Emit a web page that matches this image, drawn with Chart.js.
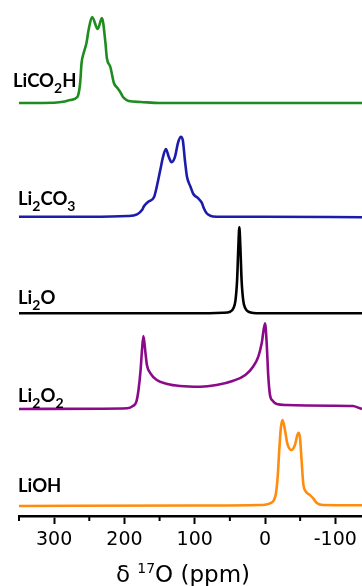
<!DOCTYPE html>
<html>
<head>
<meta charset="utf-8">
<script src="https://cdn.jsdelivr.net/npm/chart.js@4.4.1/dist/chart.umd.min.js"></script>
<style>
  html, body { margin: 0; padding: 0; background: #ffffff; }
  #wrap { position: relative; width: 362px; height: 586px; }
</style>
</head>
<body>
<div id="wrap"><canvas id="c"></canvas></div>
<script>
// ---- data ----
const TICK_VALUES = [-100, -50, 0, 50, 100, 150, 200, 250, 300, 350];
const LABELED_TICKS = [300, 200, 100, 0, -100];
const X_MIN = -138;
const X_MAX = 350;

const SERIES_NAMES = ['LiCO_2H', 'Li_2CO_3', 'Li_2O', 'Li_2O_2', 'LiOH'];
const SERIES_COLORS = ['#1f8c1f', '#1c1caa', '#000000', '#8a0a8a', '#ff8c0c'];
const SERIES_OFFSETS = [413, 299.3, 202.7, 107, 10];

const LICO2H_PPM = [350, 300, 285, 277, 267, 263, 261, 258, 254, 251, 246, 238, 232, 227, 225, 220, 215, 210, 206, 202, 199, 194, 177, 150, 0, -138];
const LICO2H_INT = [0, 0.3, 1.5, 3, 6, 20, 40, 50, 60, 73, 86, 74, 85, 60, 45, 36, 20, 15, 11, 6, 4, 2, 1, 0, 0, 0];

const LI2CO3_PPM = [350, 250, 196, 182, 175, 172, 166, 158, 154, 149, 145, 141, 137, 133, 128, 124, 120, 117, 114, 111, 106, 102, 95, 90, 87, 83, 78, 69, 0, -138];
const LI2CO3_INT = [0, 0, 0.7, 2.4, 6.7, 10.7, 15, 19.4, 30, 46.7, 60, 67.7, 60, 54.4, 60, 73.4, 80, 76.7, 56.7, 40, 30, 22.7, 18.4, 14, 8.4, 3.4, 1, 0, 0, -0.5];

const LI2O_PPM = [350, 100, 60, 49.5, 45, 42, 39.7, 37.9, 36.5, 35.1, 33.3, 31, 28, 23.5, 7, -138];
const LI2O_INT = [0, 0, 0.5, 1.6, 5, 13, 33, 67, 86, 67, 33, 13, 5, 1.6, 0, 0];

const LI2O2_PPM = [350, 234, 196, 188, 183, 180, 177, 175, 173, 170, 168, 163, 154, 139, 121, 92, 69, 45, 28, 17, 9.5, 4.7, 0, -2.4, -4.7, -7.1, -10.9, -16.6, -30.8, -96.9, -125, -135, -138];
const LI2O2_INT = [0, 0.3, 0.7, 3, 7.3, 19, 39, 59, 73, 55.7, 44, 35.7, 29, 25, 23, 22.3, 24, 28.3, 34, 42.3, 52.3, 65.7, 85.7, 65.7, 32.3, 14, 8.3, 5, 4, 3.3, 3, 0.7, 0];

const LIOH_PPM = [350, 100, 7, -7, -12.8, -15.6, -18, -20.3, -22.7, -25, -28.4, -31.7, -37.8, -42.6, -47.3, -49.6, -52, -54.4, -58.2, -63.8, -68.6, -73.3, -82.7, -138];
const LIOH_INT = [0, 0.5, 1, 2.7, 6, 12.7, 29, 56, 79, 86, 76, 62.7, 56, 61, 73.3, 69.3, 46, 22.7, 14.3, 11, 7.7, 3.3, 1, 0.7];

const ALL_PPM = [LICO2H_PPM, LI2CO3_PPM, LI2O_PPM, LI2O2_PPM, LIOH_PPM];
const ALL_INT = [LICO2H_INT, LI2CO3_INT, LI2O_INT, LI2O2_INT, LIOH_INT];

const AXIS_TITLE = ['δ ', '17', 'O (ppm)'];

// ---- layout (not data) ----
const LABEL_POS = [[13, 87], [18, 205], [18, 304], [18, 402], [18, 492]];
const Y_TOP = 516;

const datasets = SERIES_NAMES.map((name, i) => ({
  label: name,
  data: ALL_PPM[i].map((p, j) => ({ x: p, y: ALL_INT[i][j] + SERIES_OFFSETS[i] })),
  borderColor: SERIES_COLORS[i],
  borderWidth: 2.6,
  pointRadius: 0,
  fill: false,
  cubicInterpolationMode: 'monotone',
  clip: false
}));

const labelPlugin = {
  id: 'specLabels',
  afterDraw(chart) {
    const ctx = chart.ctx;
    ctx.save();
    ctx.fillStyle = '#000';
    ctx.textBaseline = 'alphabetic';
    ctx.textAlign = 'left';
    SERIES_NAMES.forEach((name, i) => {
      let [x, y] = LABEL_POS[i];
      const parts = name.split(/(_\d)/).filter(s => s.length);
      parts.forEach(part => {
        if (part[0] === '_') {
          ctx.font = 'bold 14px Lato';
          ctx.fillText(part.slice(1), x, y + 6);
          x += ctx.measureText(part.slice(1)).width;
        } else {
          ctx.font = 'bold 18.5px Lato';
          ctx.fillText(part, x, y);
          x += ctx.measureText(part).width;
        }
      });
    });
    // axis title
    const xs = chart.scales.x;
    ctx.font = '23px "DejaVu Sans"';
    const w1 = ctx.measureText(AXIS_TITLE[0]).width;
    const w3 = ctx.measureText(AXIS_TITLE[2]).width;
    ctx.font = '14px "DejaVu Sans"';
    const w2 = ctx.measureText(AXIS_TITLE[1]).width;
    const total = w1 + w2 + w3;
    let tx = 183 - total / 2;
    const ty = 582;
    ctx.font = '23px "DejaVu Sans"';
    ctx.fillText(AXIS_TITLE[0], tx, ty); tx += w1;
    ctx.font = '14px "DejaVu Sans"';
    ctx.fillText(AXIS_TITLE[1], tx, ty - 9); tx += w2;
    ctx.font = '23px "DejaVu Sans"';
    ctx.fillText(AXIS_TITLE[2], tx, ty);
    // minor ticks
    ctx.strokeStyle = '#000';
    ctx.lineWidth = 2;
    TICK_VALUES.filter(v => !LABELED_TICKS.includes(v)).forEach(v => {
      const px = xs.getPixelForValue(v);
      ctx.beginPath();
      ctx.moveTo(px, xs.top);
      ctx.lineTo(px, xs.top + 5);
      ctx.stroke();
    });
    ctx.restore();
  }
};

new Chart(document.getElementById('c'), {
  type: 'line',
  data: { datasets },
  options: {
    responsive: true,
    maintainAspectRatio: false,
    animation: false,
    parsing: true,
    layout: { padding: { left: 19, right: 0, top: 0, bottom: 0 } },
    plugins: { legend: { display: false }, tooltip: { enabled: false }, title: { display: false } },
    scales: {
      x: {
        type: 'linear',
        reverse: true,
        min: X_MIN,
        max: X_MAX,
        afterBuildTicks(scale) { scale.ticks = TICK_VALUES.map(v => ({ value: v })); },
        afterFit(scale) { scale.height = 586 - Y_TOP; },
        border: { display: true, color: '#000', width: 2.6 },
        grid: {
          display: true,
          drawOnChartArea: false,
          drawTicks: true,
          tickLength: 8,
          tickWidth: 2,
          tickColor: (c) => (c.tick && LABELED_TICKS.includes(c.tick.value)) ? '#000' : 'rgba(0,0,0,0)'
        },
        ticks: {
          autoSkip: false,
          maxRotation: 0,
          padding: 5,
          color: '#000',
          font: { family: 'DejaVu Sans', size: 19 },
          callback: (v) => LABELED_TICKS.includes(v) ? String(v) : ''
        }
      },
      y: {
        type: 'linear',
        display: false,
        min: 0,
        max: Y_TOP
      }
    }
  },
  plugins: [labelPlugin]
});
</script>
</body>
</html>
